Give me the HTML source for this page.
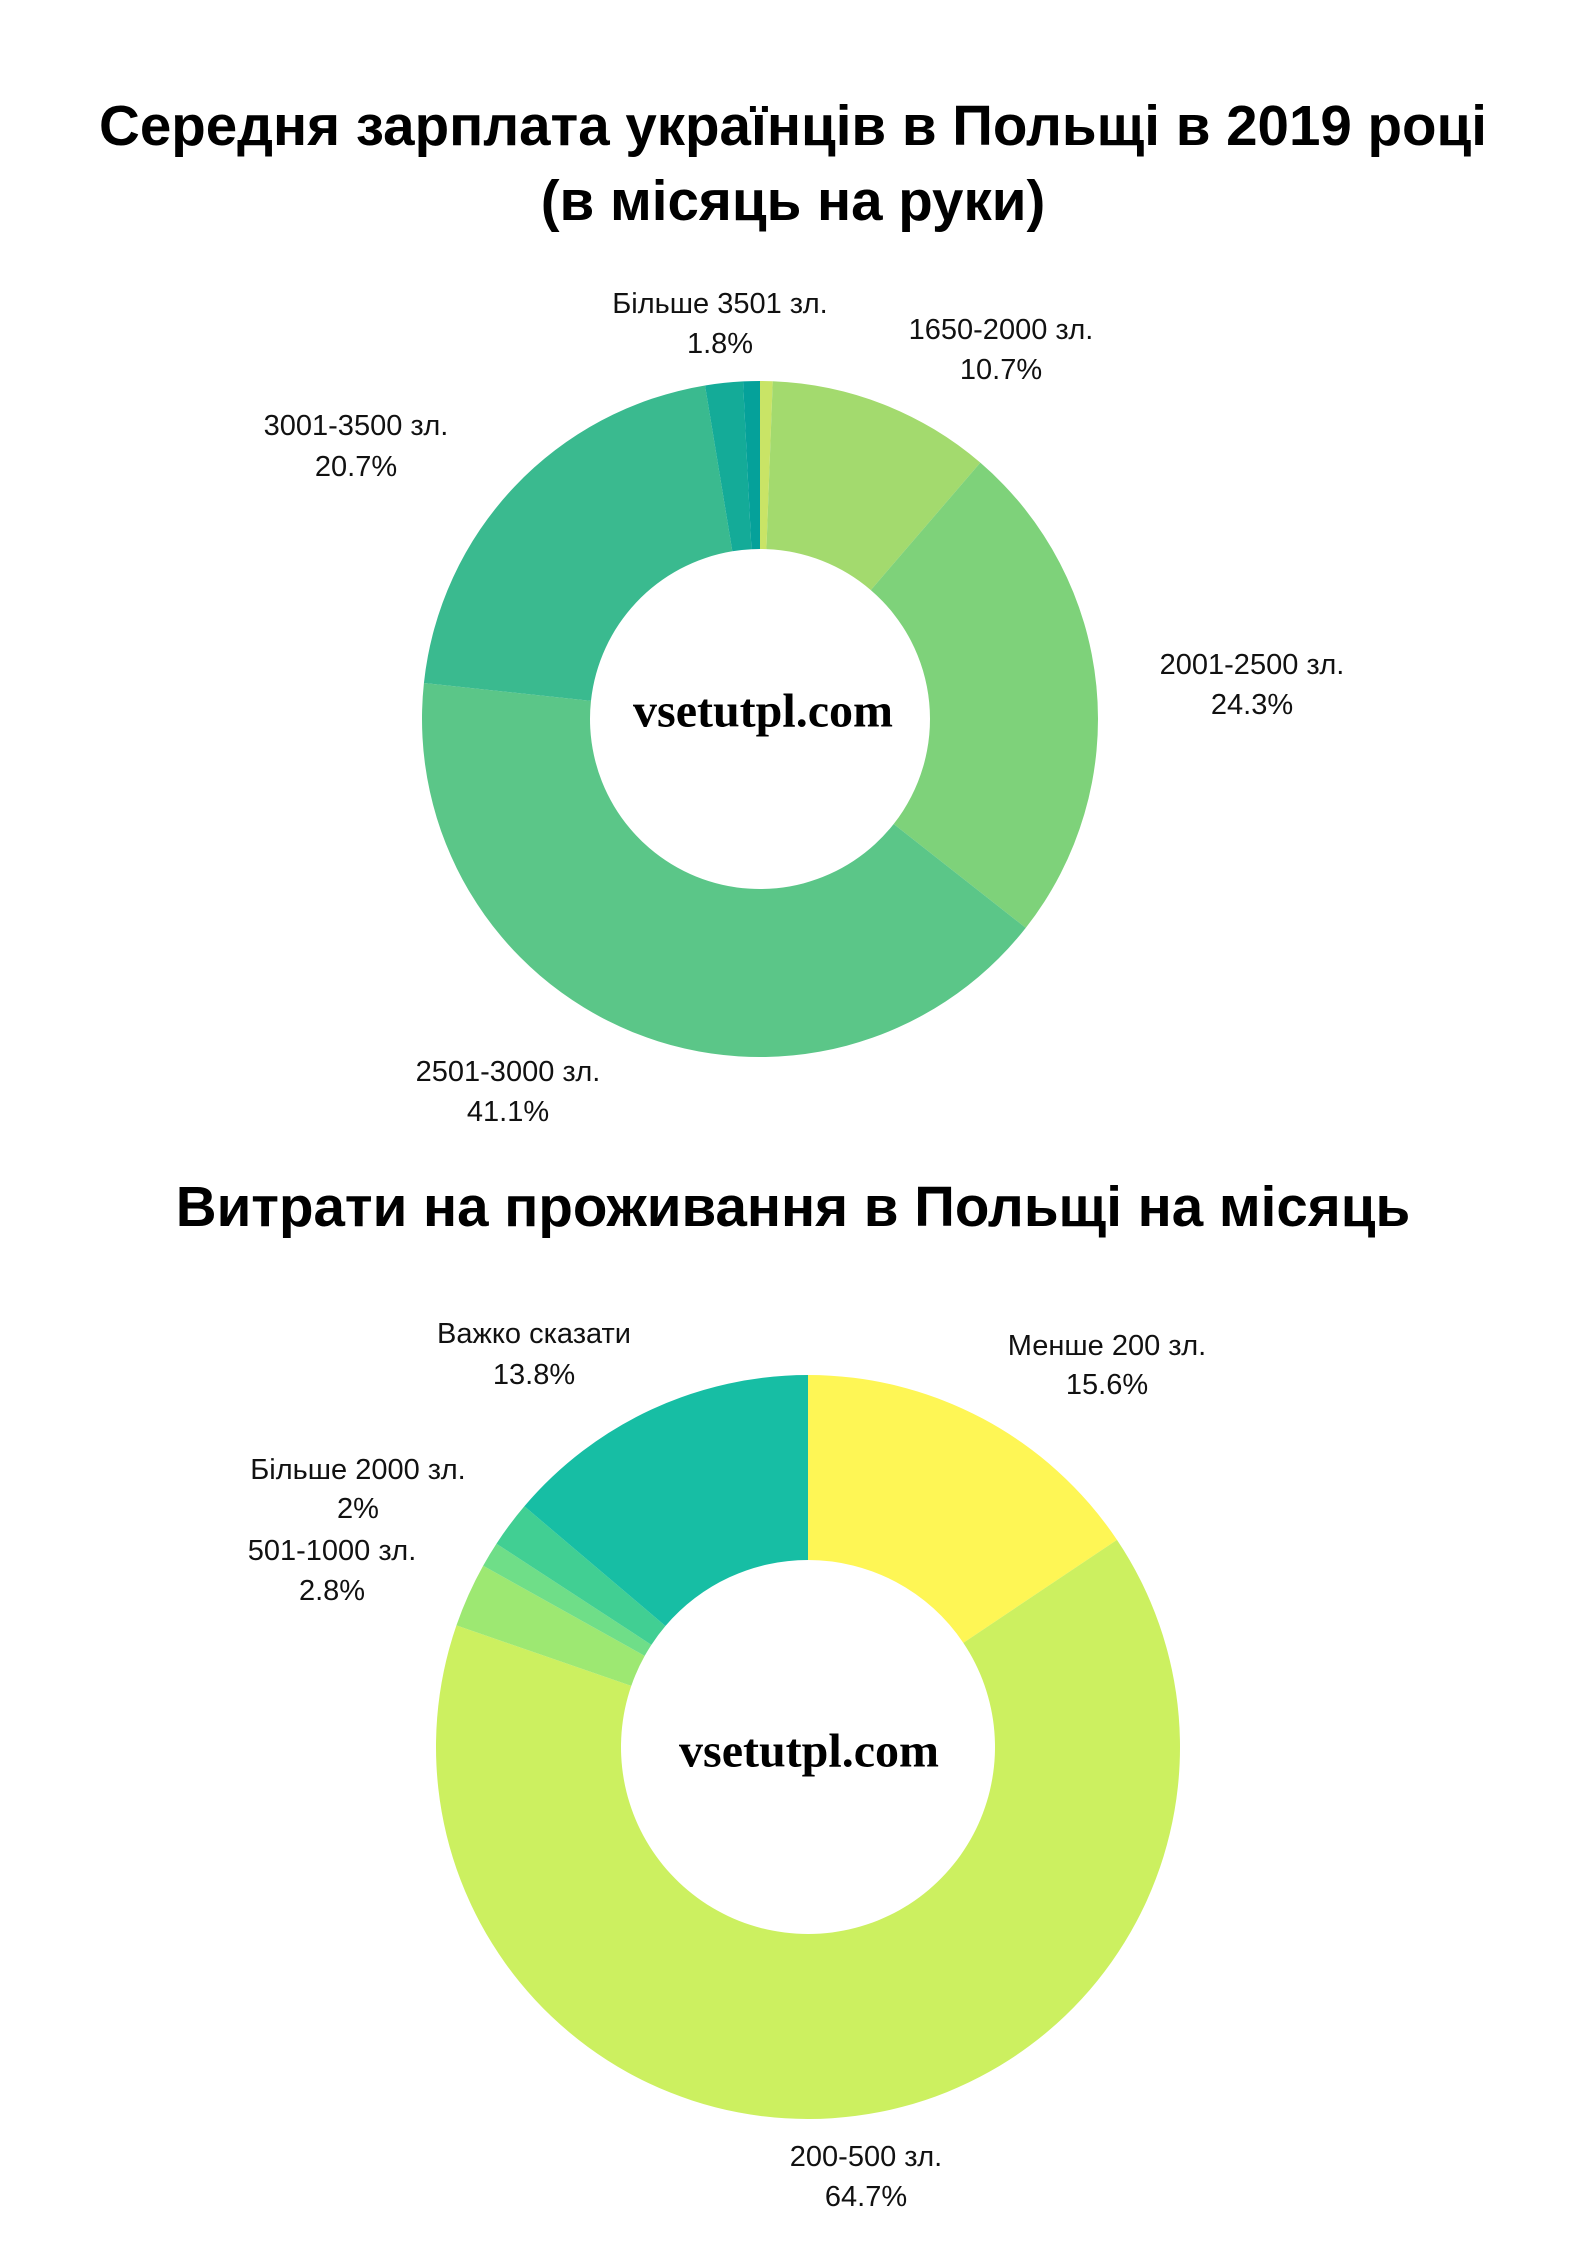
<!DOCTYPE html>
<html><head><meta charset="utf-8">
<style>
html,body{margin:0;padding:0;background:#fff;}
svg{display:block;}
text{font-family:"Liberation Sans",sans-serif;fill:#111;}
.title{font-weight:bold;font-size:56.5px;text-anchor:middle;fill:#000;}
.lbl{font-size:29px;text-anchor:middle;dominant-baseline:central;}
.wm{font-family:"Liberation Serif",serif;font-weight:bold;font-size:48px;text-anchor:middle;dominant-baseline:central;fill:#000;}
</style></head>
<body>
<svg id="chart" width="1587" height="2245" viewBox="0 0 1587 2245" xmlns="http://www.w3.org/2000/svg">
<text class="title" x="793" y="145">Середня зарплата українців в Польщі в 2019 році</text>
<text class="title" x="793" y="220">(в місяць на руки)</text>
<text class="title" x="793" y="1226">Витрати на проживання в Польщі на місяць</text>
<g id="g1"></g>
<g id="g2"></g>
<text class="wm" x="763" y="711">vsetutpl.com</text>
<text class="wm" x="809" y="1751">vsetutpl.com</text>
<g>
<text class="lbl" x="720" y="304">Більше 3501 зл.</text>
<text class="lbl" x="720" y="344">1.8%</text>
<text class="lbl" x="1001" y="330">1650-2000 зл.</text>
<text class="lbl" x="1001" y="370">10.7%</text>
<text class="lbl" x="356" y="426">3001-3500 зл.</text>
<text class="lbl" x="356" y="467">20.7%</text>
<text class="lbl" x="1252" y="665">2001-2500 зл.</text>
<text class="lbl" x="1252" y="705">24.3%</text>
<text class="lbl" x="508" y="1072">2501-3000 зл.</text>
<text class="lbl" x="508" y="1112">41.1%</text>
</g>
<g>
<text class="lbl" x="534" y="1334">Важко сказати</text>
<text class="lbl" x="534" y="1375">13.8%</text>
<text class="lbl" x="1107" y="1346">Менше 200 зл.</text>
<text class="lbl" x="1107" y="1385">15.6%</text>
<text class="lbl" x="358" y="1470">Більше 2000 зл.</text>
<text class="lbl" x="358" y="1509">2%</text>
<text class="lbl" x="332" y="1551">501-1000 зл.</text>
<text class="lbl" x="332" y="1591">2.8%</text>
<text class="lbl" x="866" y="2157">200-500 зл.</text>
<text class="lbl" x="866" y="2197">64.7%</text>
</g>
</svg>
<script>
const salaryCategories = ["other", "1650-2000", "2001-2500", "2501-3000", "3001-3500", "over-3501", "unlabeled"];
const salaryValues = [0.6, 10.7, 24.3, 41.1, 20.7, 1.8, 0.8];
const salaryColors = ["#c9e466", "#a3da6e", "#7ed27a", "#5bc688", "#3aba8f", "#14ab98", "#05a19a"];
const expenseCategories = ["under-200", "200-500", "501-1000", "unlabeled", "over-2000", "hard-to-say"];
const expenseValues = [15.6, 64.7, 2.8, 1.1, 2.0, 13.8];
const expenseColors = ["#fef655", "#ccf060", "#9de872", "#6fde88", "#41cf93", "#17bea4"];

function drawDonut(gid, cats, vals, colors, cx, cy, R, r) {
  const g = document.getElementById(gid);
  const total = vals.reduce((a, b) => a + b, 0);
  let acc = 0;
  const pt = (rad, frac) => {
    const a = frac * 2 * Math.PI;
    return [cx + rad * Math.sin(a), cy - rad * Math.cos(a)];
  };
  vals.forEach((v, i) => {
    const f0 = acc / total, f1 = (acc + v) / total;
    acc += v;
    const large = (f1 - f0) > 0.5 ? 1 : 0;
    const [x0, y0] = pt(R, f0), [x1, y1] = pt(R, f1);
    const [x2, y2] = pt(r, f1), [x3, y3] = pt(r, f0);
    const p = document.createElementNS("http://www.w3.org/2000/svg", "path");
    p.setAttribute("d", `M${x0},${y0} A${R},${R} 0 ${large} 1 ${x1},${y1} L${x2},${y2} A${r},${r} 0 ${large} 0 ${x3},${y3} Z`);
    p.setAttribute("fill", colors[i]);
    
    
    g.appendChild(p);
  });
}
drawDonut("g1", salaryCategories, salaryValues, salaryColors, 760, 719, 338, 170);
drawDonut("g2", expenseCategories, expenseValues, expenseColors, 808, 1747, 372, 187);
</script>
</body></html>
